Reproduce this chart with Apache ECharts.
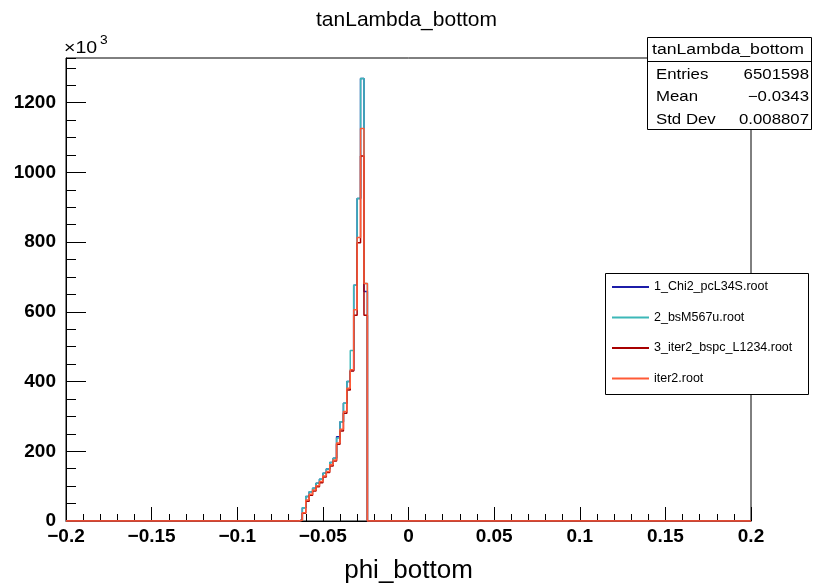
<!DOCTYPE html>
<html><head><meta charset="utf-8">
<script src="https://cdn.jsdelivr.net/npm/echarts@6/dist/echarts.min.js"></script>
<style>html,body{margin:0;padding:0;background:#fff}#c{width:813px;height:588px}</style>
</head><body><div id="c"></div>
<script>
// ---- data (y values in units of 10^3 entries per bin) ----
const xMin = -0.2, xMax = 0.2, binWidth = 0.002;
const firstFilledBin = -0.064;           // left edge of first non-empty bin
const seriesNames = ['1_Chi2_pcL34S.root', '2_bsM567u.root', '3_iter2_bspc_L1234.root', 'iter2.root'];
const chi2Values    = [3, 38, 70, 84, 94, 108, 120, 137, 149, 168, 180, 242, 285, 338, 400, 432, 676, 925, 1269, 658];
const bsM567uValues = [3, 38, 70, 84, 94, 108, 120, 137, 149, 168, 180, 238, 285, 338, 400, 489, 676, 925, 1269, 681];
const iter2L1234Values = [2, 22, 57, 74, 86, 98, 110, 126, 139, 158, 172, 220, 258, 309, 376, 430, 590, 798, 1047, 590];
const iter2Values   = [2, 24, 60, 77, 89, 101, 113, 129, 142, 161, 175, 224, 263, 314, 381, 434, 606, 813, 1126, 681];
const yTickLabels = ['0', '200', '400', '600', '800', '1000', '1200'];
const xTickLabels = ['−0.2', '−0.15', '−0.1', '−0.05', '0', '0.05', '0.1', '0.15', '0.2'];
const statsTitle = 'tanLambda_bottom';
const statsRows = [['Entries', '6501598'], ['Mean', '−0.0343'], ['Std Dev', '0.008807']];
const colors = ['#1c1ca8', '#3cb8b8', '#a80000', '#ff5a36'];

function histData(vals) {
  const nb = Math.round((xMax - xMin) / binWidth);
  const first = Math.round((firstFilledBin - xMin) / binWidth);
  const d = [];
  for (let i = 0; i < nb; i++) {
    const edge = +(xMin + i * binWidth).toFixed(4);
    const k = i - first;
    d.push([edge, (k >= 0 && k < vals.length) ? vals[k] : 0]);
  }
  d.push([xMax, 0]);
  return d;
}
const allValues = [chi2Values, bsM567uValues, iter2L1234Values, iter2Values];
const FONT = '"Liberation Sans", Arial, Helvetica, sans-serif';
const yMax = 1328;

const chart = echarts.init(document.getElementById('c'), null, {renderer: 'canvas'});
chart.setOption({
  animation: false,
  title: {text: 'tanLambda_bottom', left: 'center', top: 5,
    textStyle: {fontFamily: FONT, fontWeight: 'normal', fontSize: 21, color: '#000'}},
  grid: {left: 66, right: 62, top: 58, bottom: 67, show: true, borderColor: '#000', borderWidth: 1,
    backgroundColor: 'transparent', containLabel: false, outerBoundsMode: 'none'},
  xAxis: {
    type: 'value', min: xMin, max: xMax, interval: 0.05,
    axisLine: {show: true, onZero: false, lineStyle: {color: '#000', width: 1}},
    axisTick: {show: true, inside: true, length: 14, lineStyle: {color: '#000'}},
    minorTick: {show: true, splitNumber: 5, length: 7, lineStyle: {color: '#000'}},
    splitLine: {show: false},
    axisLabel: {margin: 6, color: '#000', fontFamily: FONT, fontWeight: 'bold', fontSize: 19,
      formatter: v => xTickLabels[Math.round((v - xMin) / 0.05)]},
    name: 'phi_bottom', nameLocation: 'middle', nameGap: 37,
    nameTextStyle: {fontFamily: FONT, fontSize: 26, color: '#000'}
  },
  yAxis: [{
    type: 'value', min: 0, max: yMax, interval: 200, position: 'left',
    axisLine: {show: true, onZero: false, lineStyle: {color: '#000', width: 1}},
    axisTick: {show: true, inside: true, length: 20, lineStyle: {color: '#000'}},
    splitLine: {show: false},
    axisLabel: {margin: 10, color: '#000', fontFamily: FONT, fontWeight: 'bold', fontSize: 19, showMaxLabel: false,
      formatter: v => yTickLabels[Math.round(v / 200)] || ''}
  }, {
    type: 'value', min: 0, max: yMax, interval: 50, position: 'left', offset: 0,
    axisLine: {show: false, onZero: false},
    axisTick: {show: true, inside: true, length: 10, lineStyle: {color: '#000'}},
    splitLine: {show: false}, axisLabel: {show: false}
  }],
  legend: {
    data: seriesNames, orient: 'vertical', left: 612, top: 280, padding: 0,
    itemGap: 16.5, itemWidth: 37, itemHeight: 2, icon: 'rect', z: 10,
    textStyle: {fontFamily: FONT, fontSize: 12.5, color: '#000', lineHeight: 14}
  },
  series: seriesNames.map((n, i) => ({
    name: n, type: 'line', step: 'end', symbol: 'none', data: histData(allValues[i]),
    xAxisIndex: 0, yAxisIndex: 0, z: 2 + i,
    lineStyle: {color: colors[i], width: 1.5}, itemStyle: {color: colors[i]}
  })),
  graphic: [
    {type: 'rect', z: 8, shape: {x: 605.5, y: 273.5, width: 203, height: 121},
      style: {fill: '#fff', stroke: '#000', lineWidth: 1}},
    {type: 'rect', z: 8, shape: {x: 647.5, y: 37.5, width: 164, height: 92},
      style: {fill: '#fff', stroke: '#000', lineWidth: 1}},
    {type: 'line', z: 9, shape: {x1: 647.5, y1: 61.5, x2: 811.5, y2: 61.5}, style: {stroke: '#000', lineWidth: 1}},
    {type: 'text', z: 9, x: 652, y: 57, scaleX: 1.26,
      style: {text: statsTitle, font: '14px ' + FONT, fill: '#000', textVerticalAlign: 'bottom'}},
    ...statsRows.flatMap((r, i) => [
      {type: 'text', z: 9, x: 656, y: 82 + i * 22.5, scaleX: 1.2,
        style: {text: r[0], font: '14px ' + FONT, fill: '#000', textVerticalAlign: 'bottom'}},
      {type: 'text', z: 9, x: 809, y: 82 + i * 22.5, scaleX: 1.2,
        style: {text: r[1], font: '14px ' + FONT, fill: '#000', textAlign: 'right', textVerticalAlign: 'bottom'}}
    ]),
    {type: 'text', z: 9, x: 64, y: 57, scaleX: 1.15,
      style: {text: '×10', font: '17px ' + FONT, fill: '#000', textVerticalAlign: 'bottom'}},
    {type: 'text', z: 9, x: 100, y: 47, scaleX: 1.15,
      style: {text: '3', font: '12px ' + FONT, fill: '#000', textVerticalAlign: 'bottom'}}
  ]
});
</script>
</body></html>
